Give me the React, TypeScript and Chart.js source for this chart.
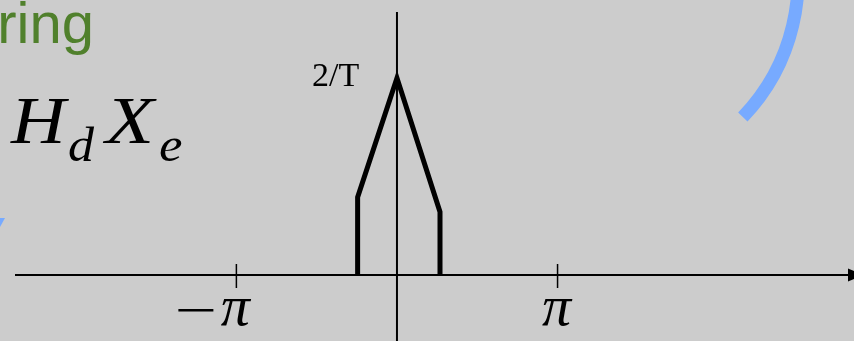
import React, { useEffect, useRef } from "react";
import { Chart, registerables } from "chart.js";

Chart.register(...registerables);

// Spectrum outline: frequency in units of π, magnitude in units of 1/T
const freq = [-0.245, -0.245, 0, 0.268, 0.268];
const mag = [0, 0.79, 2, 0.64, 0];

// Frequency axis ticks (units of π) and their labels
const tickValues = [-1, 1];
const tickLabels = ["−π", "π"];

// Peak magnitude label
const peakValue = 2;
const peakLabel = "2/T";

// Titles shown around the plot
const titleWord = "Filtering";
const mathMain = ["H", "X"];
const mathSub = ["d", "e"];

const BG = "rgb(204,204,204)";
const GREEN = "rgb(80,128,44)";
const BLUE = "rgb(119,170,255)";

// Draw a glyph so that its ink spans [left, right], stretching horizontally if needed
function fillFit(ctx: CanvasRenderingContext2D, text: string, left: number, right: number, baseline: number) {
  ctx.save();
  ctx.textAlign = "left";
  const m = ctx.measureText(text);
  const inkW = m.actualBoundingBoxRight + m.actualBoundingBoxLeft;
  const s = (right - left) / inkW;
  ctx.translate(left, baseline);
  ctx.scale(s, 1);
  ctx.fillText(text, m.actualBoundingBoxLeft, 0);
  ctx.restore();
}

const decorPlugin = {
  id: "decor",
  beforeDraw(chart: any) {
    const { ctx, width, height } = chart;
    ctx.save();
    ctx.fillStyle = BG;
    ctx.fillRect(0, 0, width, height);
    ctx.restore();
  },
  beforeDatasetsDraw(chart: any) {
    const { ctx, width, height } = chart;
    const xs = chart.scales.x;
    const ys = chart.scales.y;
    const x0 = xs.getPixelForValue(0);
    const y0 = ys.getPixelForValue(0);
    ctx.save();
    ctx.strokeStyle = "#000";
    ctx.fillStyle = "#000";
    ctx.lineWidth = 2;
    // horizontal axis with arrow
    ctx.beginPath();
    ctx.moveTo(15, y0);
    ctx.lineTo(width - 4, y0);
    ctx.stroke();
    ctx.beginPath();
    ctx.moveTo(848, y0 - 6.5);
    ctx.lineTo(864, y0);
    ctx.lineTo(848, y0 + 6.5);
    ctx.closePath();
    ctx.fill();
    // vertical axis
    ctx.beginPath();
    ctx.moveTo(x0, 12);
    ctx.lineTo(x0, height);
    ctx.stroke();
    // ticks
    ctx.lineWidth = 1.5;
    tickValues.forEach((v) => {
      const px = xs.getPixelForValue(v);
      ctx.beginPath();
      ctx.moveTo(px, y0 - 11);
      ctx.lineTo(px, y0 + 13);
      ctx.stroke();
    });
    ctx.restore();
  },
  afterDraw(chart: any) {
    const { ctx } = chart;
    const xs = chart.scales.x;
    const ys = chart.scales.y;
    const y0 = ys.getPixelForValue(0);
    ctx.save();

    // tick labels
    ctx.fillStyle = "#000";
    ctx.textBaseline = "alphabetic";
    tickLabels.forEach((lab, i) => {
      const px = xs.getPixelForValue(tickValues[i]);
      const hasMinus = lab.startsWith("−");
      ctx.font = "italic 58px 'Liberation Serif'";
      ctx.textAlign = "center";
      ctx.fillText("π", px - 1, y0 + 50);
      if (hasMinus) {
        ctx.fillRect(px - 58, y0 + 34, 35, 2.5);
      }
    });

    // peak label
    ctx.font = "34px 'Liberation Serif'";
    ctx.textAlign = "left";
    ctx.fillText(peakLabel, 312, ys.getPixelForValue(peakValue) + 8);

    // green title fragment, cut by the left edge
    ctx.fillStyle = GREEN;
    ctx.font = "58px 'Liberation Sans'";
    ctx.textAlign = "right";
    ctx.fillText(titleWord, 94, 43);

    // H_d X_e
    ctx.fillStyle = "#000";
    ctx.font = "italic 68px 'Liberation Serif'";
    fillFit(ctx, mathMain[0], 10, 70, 143);
    fillFit(ctx, mathMain[1], 102, 157, 143);
    ctx.font = "italic 48px 'Liberation Serif'";
    fillFit(ctx, mathSub[0], 69, 95, 161);
    fillFit(ctx, mathSub[1], 160, 182, 161);

    // blue arcs
    ctx.strokeStyle = BLUE;
    ctx.lineWidth = 13;
    ctx.lineCap = "butt";
    ctx.beginPath();
    ctx.arc(600, -20, 198, -0.3, 0.765);
    ctx.stroke();
    ctx.fillStyle = BLUE;
    ctx.beginPath();
    ctx.moveTo(0, 218);
    ctx.lineTo(5, 218);
    ctx.lineTo(0, 227);
    ctx.closePath();
    ctx.fill();

    ctx.restore();
  },
};

export default function App() {
  const ref = useRef<HTMLCanvasElement | null>(null);

  useEffect(() => {
    if (!ref.current) return;
    const chart = new Chart(ref.current, {
      type: "scatter",
      data: {
        datasets: [
          {
            data: freq.map((f, i) => ({ x: f, y: mag[i] })),
            showLine: true,
            borderColor: "#000",
            borderWidth: 5,
            borderJoinStyle: "miter",
            borderCapStyle: "butt",
            pointRadius: 0,
            tension: 0,
          },
        ],
      },
      options: {
        responsive: false,
        animation: false,
        layout: { padding: 0 },
        plugins: {
          legend: { display: false },
          tooltip: { enabled: false },
        },
        scales: {
          x: { type: "linear", display: false, min: -2.472, max: 2.846 },
          y: { type: "linear", display: false, min: -0.67, max: 2.792 },
        },
      },
      plugins: [decorPlugin],
    });
    return () => chart.destroy();
  }, []);

  return (
    <div style={{ position: "absolute", left: 0, top: 0, width: 854, height: 341 }}>
      <canvas ref={ref} width={854} height={341} />
    </div>
  );
}
